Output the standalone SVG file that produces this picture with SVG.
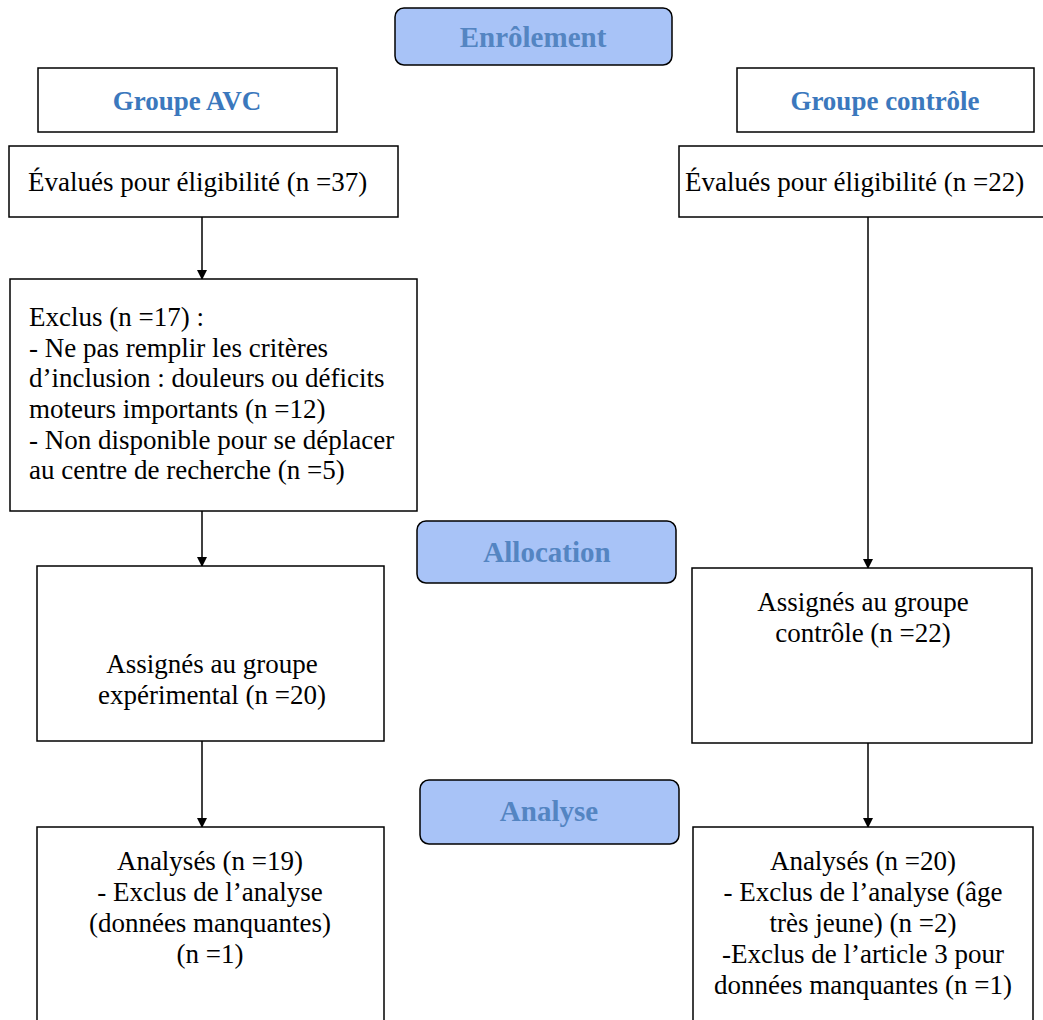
<svg xmlns="http://www.w3.org/2000/svg" width="1043" height="1020" viewBox="0 0 1043 1020">
<style>
.box{fill:#fff;stroke:#000;stroke-width:1.5}
.phase{fill:#a8c3f7;stroke:#000;stroke-width:1.5}
.t{font-family:'Liberation Serif','Times New Roman','DejaVu Serif',serif;font-size:27px;fill:#000}
.c{text-anchor:middle}
.h{font-family:'Liberation Serif','Times New Roman','DejaVu Serif',serif;font-size:27px;font-weight:bold;fill:#3b78bd;text-anchor:middle}
.p{font-family:'Liberation Serif','Times New Roman','DejaVu Serif',serif;font-size:29px;font-weight:bold;fill:#5485c2;text-anchor:middle}
.ln{stroke:#000;stroke-width:1.5;fill:none}
</style>
<defs>
<marker id="ah" markerWidth="10" markerHeight="10" refX="9" refY="5" orient="auto" markerUnits="userSpaceOnUse">
<path d="M0,0 L10,5 L0,10 Z" fill="#000"/>
</marker>
</defs>
<g id="connectors">
<line class="ln" x1="202" y1="217" x2="202" y2="279" marker-end="url(#ah)"/>
<line class="ln" x1="202" y1="511" x2="202" y2="566" marker-end="url(#ah)"/>
<line class="ln" x1="202" y1="741" x2="202" y2="827" marker-end="url(#ah)"/>
<line class="ln" x1="868" y1="217" x2="868" y2="568" marker-end="url(#ah)"/>
<line class="ln" x1="868" y1="743" x2="868" y2="827" marker-end="url(#ah)"/>
</g>
<g id="enrolement">
<rect class="phase" x="395" y="8" width="277" height="57" rx="9"/>
<text class="p" x="533" y="47">Enrôlement</text>
</g>
<g id="groupe-avc">
<rect class="box" x="38" y="68" width="299" height="64"/>
<text class="h" x="187" y="110">Groupe AVC</text>
</g>
<g id="groupe-controle">
<rect class="box" x="737" y="68" width="297" height="64"/>
<text class="h" x="885" y="110">Groupe contrôle</text>
</g>
<g id="eval-avc">
<rect class="box" x="9" y="146" width="389" height="71"/>
<text class="t" x="28" y="191">Évalués pour éligibilité (n =37)</text>
</g>
<g id="eval-controle">
<rect class="box" x="679" y="146" width="370" height="71"/>
<text class="t" x="685" y="191">Évalués pour éligibilité (n =22)</text>
</g>
<g id="exclus">
<rect class="box" x="10" y="279" width="407" height="232"/>
<text class="t" x="29" y="326">Exclus (n =17) :</text>
<text class="t" x="29" y="357">- Ne pas remplir les critères</text>
<text class="t" x="29" y="387">d’inclusion : douleurs ou déficits</text>
<text class="t" x="29" y="418">moteurs importants (n =12)</text>
<text class="t" x="29" y="449">- Non disponible pour se déplacer</text>
<text class="t" x="29" y="479">au centre de recherche (n =5)</text>
</g>
<g id="allocation">
<rect class="phase" x="417" y="521" width="259" height="62" rx="9"/>
<text class="p" x="547" y="562">Allocation</text>
</g>
<g id="assign-exp">
<rect class="box" x="37" y="566" width="347" height="175"/>
<text class="t c" x="212" y="673">Assignés au groupe</text>
<text class="t c" x="212" y="704">expérimental (n =20)</text>
</g>
<g id="assign-controle">
<rect class="box" x="692" y="568" width="340" height="175"/>
<text class="t c" x="863" y="611">Assignés au groupe</text>
<text class="t c" x="863" y="642">contrôle (n =22)</text>
</g>
<g id="analyse">
<rect class="phase" x="420" y="780" width="259" height="64" rx="9"/>
<text class="p" x="549" y="821">Analyse</text>
</g>
<g id="analyses-avc">
<rect class="box" x="37" y="827" width="347" height="200"/>
<text class="t c" x="210" y="870">Analysés (n =19)</text>
<text class="t c" x="210" y="901">- Exclus de l’analyse</text>
<text class="t c" x="210" y="932">(données manquantes)</text>
<text class="t c" x="210" y="963">(n =1)</text>
</g>
<g id="analyses-controle">
<rect class="box" x="693" y="827" width="340" height="200"/>
<text class="t c" x="863" y="870">Analysés (n =20)</text>
<text class="t c" x="863" y="901">- Exclus de l’analyse (âge</text>
<text class="t c" x="863" y="932">très jeune) (n =2)</text>
<text class="t c" x="863" y="963">-Exclus de l’article 3 pour</text>
<text class="t c" x="863" y="994">données manquantes (n =1)</text>
</g>
</svg>
